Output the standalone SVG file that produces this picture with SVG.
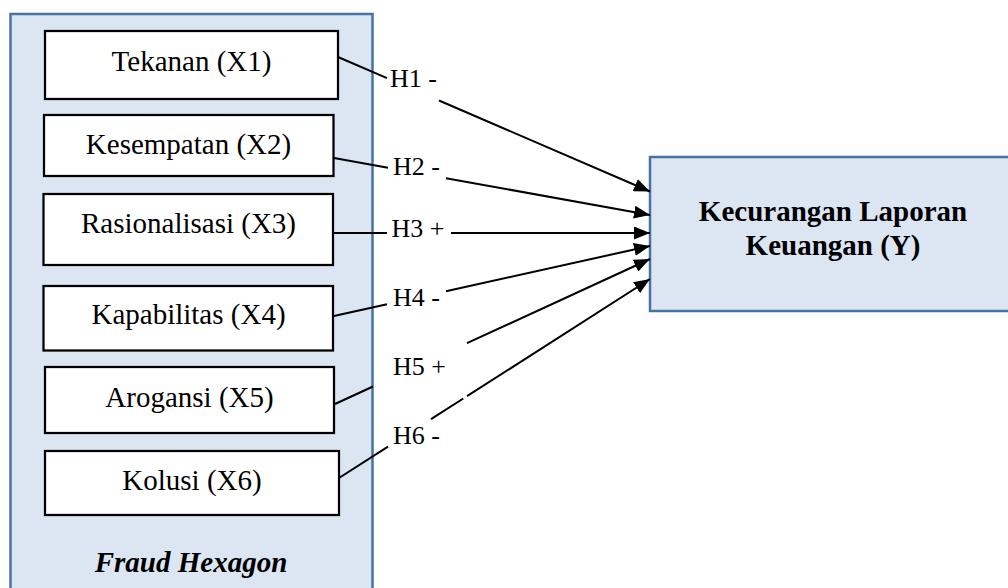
<svg xmlns="http://www.w3.org/2000/svg" width="1008" height="588" viewBox="0 0 1008 588">
<style>
.panel{fill:#dce6f2;stroke:#4772a6;stroke-width:2.5}
.node{fill:#ffffff;stroke:#000000;stroke-width:2.25}
.t{font-family:"Liberation Serif","Times New Roman",serif;font-size:29px;fill:#000;text-anchor:middle}
.lbl{font-family:"Liberation Serif","Times New Roman",serif;font-size:26px;fill:#000}
.b{font-weight:bold}
.bi{font-weight:bold;font-style:italic}
.c{fill:none;stroke:#000;stroke-width:2}
</style>
<defs>
<marker id="arr" markerUnits="userSpaceOnUse" markerWidth="16" markerHeight="13" refX="16" refY="6.5" orient="auto">
<path d="M0,0 L16,6.5 L0,13 z" fill="#000"/>
</marker>
</defs>
<g id="fraud-hexagon">
<rect class="panel" x="10.5" y="14" width="362" height="590"/>
<text class="t bi" x="191" y="572">Fraud Hexagon</text>
</g>
<g id="y">
<rect class="panel" x="650" y="157" width="380" height="154"/>
<text class="t b" x="833" y="221">Kecurangan Laporan</text>
<text class="t b" x="833" y="255">Keuangan (Y)</text>
</g>
<g id="x1">
<rect class="node" x="45" y="31" width="293" height="68"/>
<text class="t" x="191.5" y="70.5">Tekanan (X1)</text>
</g>
<g id="x2">
<rect class="node" x="44" y="115" width="289.5" height="61"/>
<text class="t" x="188.5" y="154">Kesempatan (X2)</text>
</g>
<g id="x3">
<rect class="node" x="43.5" y="194" width="289.5" height="71"/>
<text class="t" x="188.5" y="233">Rasionalisasi (X3)</text>
</g>
<g id="x4">
<rect class="node" x="43.5" y="286" width="289.5" height="64.5"/>
<text class="t" x="188.5" y="324">Kapabilitas (X4)</text>
</g>
<g id="x5">
<rect class="node" x="45" y="367" width="289" height="66"/>
<text class="t" x="189.5" y="406.5">Arogansi (X5)</text>
</g>
<g id="x6">
<rect class="node" x="45" y="451" width="294" height="64"/>
<text class="t" x="192" y="490">Kolusi (X6)</text>
</g>
<g id="connectors">
<path class="c" d="M338,57 L387,78.1 M439,100.5 L650,191.5" marker-end="url(#arr)"/>
<path class="c" d="M334,158 L388,167.7 M446,178.2 L650,215" marker-end="url(#arr)"/>
<path class="c" d="M333,233 L387,233 M451,233 L650,233" marker-end="url(#arr)"/>
<path class="c" d="M334,316 L387,304.3 M446,291.2 L650,246" marker-end="url(#arr)"/>
<path class="c" d="M335,404 L373,386.5 M467,343.2 L650,259" marker-end="url(#arr)"/>
<path class="c" d="M339,478 L388,446.6 M431,419.1 L463.3,398.5 M467,396.2 L650,279" marker-end="url(#arr)"/>
<text class="lbl" x="390" y="87">H1 -</text>
<text class="lbl" x="393" y="175">H2 -</text>
<text class="lbl" x="391.5" y="237">H3 +</text>
<text class="lbl" x="393" y="306">H4 -</text>
<text class="lbl" x="393" y="375">H5 +</text>
<text class="lbl" x="393" y="444">H6 -</text>
</g>
</svg>
